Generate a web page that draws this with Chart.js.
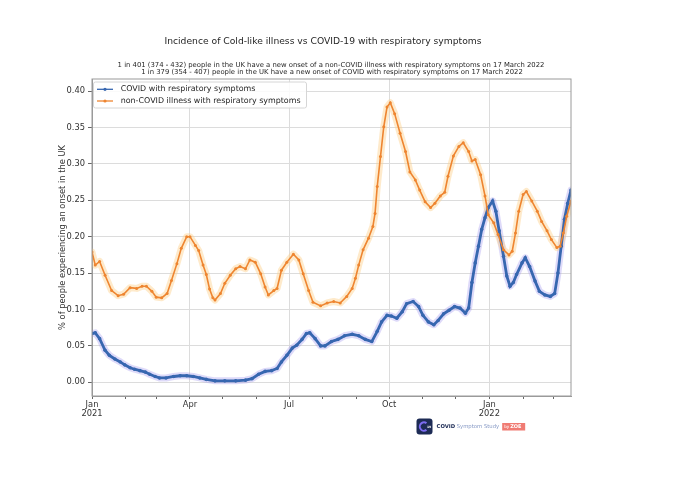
<!DOCTYPE html>
<html>
<head>
<meta charset="utf-8">
<script src="https://cdn.jsdelivr.net/npm/chart.js@4.4.0/dist/chart.umd.min.js"></script>
<style>
html, body {
    margin: 0;
    padding: 0;
    background: #fff;
}
#wrap {
    width: 680px;
    height: 503px;
    position: relative;
}
</style>
</head>
<body>
<div id="wrap"><canvas id="incidenceChart"></canvas></div>
<script>
// days since 1 Jan 2021, values in % of people
var covidDays = [0, 3, 7, 12, 16, 21, 26, 30, 35, 39, 44, 49, 53, 58, 62, 68, 75, 81, 87, 93, 99, 105, 113, 122, 132, 141, 147, 153, 159, 165, 170, 174, 179, 184, 188, 193, 197, 200, 205, 210, 214, 220, 226, 232, 239, 245, 251, 257, 262, 266, 271, 275, 280, 285, 289, 295, 300, 304, 309, 314, 318, 323, 328, 333, 338, 343, 346, 349, 352, 355, 358, 361, 364, 368, 371, 374, 378, 381, 384, 387, 390, 395, 398, 402, 407, 411, 416, 421, 425, 428, 431, 434, 437, 440];
var covidValues = [0.067, 0.068, 0.060, 0.044, 0.037, 0.032, 0.028, 0.024, 0.020, 0.018, 0.016, 0.014, 0.011, 0.008, 0.006, 0.006, 0.008, 0.009, 0.009, 0.008, 0.006, 0.004, 0.002, 0.002, 0.002, 0.003, 0.005, 0.011, 0.015, 0.016, 0.019, 0.028, 0.037, 0.047, 0.051, 0.059, 0.067, 0.068, 0.060, 0.050, 0.050, 0.056, 0.059, 0.064, 0.066, 0.064, 0.059, 0.056, 0.070, 0.083, 0.092, 0.091, 0.088, 0.097, 0.108, 0.111, 0.104, 0.092, 0.083, 0.079, 0.085, 0.094, 0.099, 0.104, 0.102, 0.095, 0.102, 0.137, 0.164, 0.187, 0.210, 0.226, 0.240, 0.249, 0.235, 0.208, 0.173, 0.146, 0.132, 0.137, 0.148, 0.164, 0.171, 0.159, 0.139, 0.125, 0.120, 0.118, 0.122, 0.150, 0.187, 0.224, 0.246, 0.264];

var coldDays = [0, 3, 7, 12, 18, 24, 29, 35, 41, 46, 50, 55, 59, 64, 69, 73, 78, 82, 87, 90, 95, 98, 102, 105, 108, 111, 113, 118, 122, 127, 132, 136, 141, 145, 150, 155, 159, 162, 167, 170, 174, 179, 185, 190, 194, 199, 203, 210, 216, 222, 228, 234, 239, 242, 245, 249, 254, 258, 260, 262, 265, 268, 271, 274, 278, 283, 288, 292, 297, 301, 306, 311, 315, 320, 324, 327, 332, 337, 341, 346, 349, 352, 357, 361, 364, 369, 373, 378, 383, 386, 389, 392, 396, 399, 404, 409, 413, 418, 422, 427, 430, 433, 436, 440];
var coldValues = [0.179, 0.161, 0.166, 0.147, 0.126, 0.119, 0.121, 0.130, 0.129, 0.132, 0.132, 0.125, 0.117, 0.116, 0.122, 0.140, 0.163, 0.184, 0.200, 0.200, 0.188, 0.181, 0.161, 0.148, 0.128, 0.116, 0.113, 0.122, 0.136, 0.147, 0.156, 0.159, 0.156, 0.168, 0.165, 0.149, 0.131, 0.120, 0.126, 0.129, 0.154, 0.165, 0.176, 0.168, 0.149, 0.126, 0.110, 0.105, 0.109, 0.111, 0.109, 0.118, 0.129, 0.143, 0.161, 0.182, 0.198, 0.214, 0.232, 0.269, 0.310, 0.351, 0.378, 0.384, 0.369, 0.342, 0.317, 0.289, 0.278, 0.264, 0.248, 0.240, 0.246, 0.256, 0.261, 0.283, 0.311, 0.324, 0.329, 0.317, 0.304, 0.306, 0.285, 0.256, 0.230, 0.219, 0.203, 0.182, 0.175, 0.180, 0.205, 0.235, 0.258, 0.262, 0.249, 0.235, 0.221, 0.208, 0.196, 0.185, 0.187, 0.205, 0.228, 0.249];

var monthStarts = [0, 31, 59, 90, 120, 151, 181, 212, 243, 273, 304, 334, 365, 396, 424];
var monthLabels = [["Jan", "2021"], "", "", "Apr", "", "", "Jul", "", "", "Oct", "", "", ["Jan", "2022"], "", ""];
var yTicks = [0, 0.05, 0.10, 0.15, 0.20, 0.25, 0.30, 0.35, 0.40];

var seriesNames = ["COVID with respiratory symptoms", "non-COVID illness with respiratory symptoms"];
var titleText = "Incidence of Cold-like illness vs COVID-19 with respiratory symptoms";
var subtitleLines = [
    "1 in 401 (374 - 432) people in the UK have a new onset of a non-COVID illness with respiratory symptoms on 17 March 2022",
    "1 in 379 (354 - 407) people in the UK have a new onset of COVID with respiratory symptoms on 17 March 2022"
];

var BLUE = "#3767b0";
var ORANGE = "#ee8530";
var FONT = "'DejaVu Sans', sans-serif";

function toPoints(days, values) {
    return days.map(function (d, i) { return {x: d, y: values[i]}; });
}

// title, subtitle, legend box, frame and the logo at the bottom
var decorations = {
    id: "decorations",
    afterDraw: function (chart) {
        var ctx = chart.ctx;
        var area = chart.chartArea;
        ctx.save();

        // frame round the plot
        ctx.strokeStyle = "#9a9a9a";
        ctx.lineWidth = 1;
        ctx.strokeRect(area.left, area.top, area.right - area.left, area.bottom - area.top);

        ctx.fillStyle = "#262626";
        ctx.textAlign = "center";
        ctx.textBaseline = "middle";
        ctx.font = "9.2px " + FONT;
        ctx.fillText(titleText, 323, 42);
        ctx.font = "6.85px " + FONT;
        ctx.fillText(subtitleLines[0], 331, 65);
        ctx.fillText(subtitleLines[1], 332, 72.7);

        // legend
        ctx.fillStyle = "rgba(255,255,255,0.85)";
        ctx.strokeStyle = "#d6d6d6";
        ctx.beginPath();
        ctx.roundRect(93.5, 82, 213, 26, 2);
        ctx.fill();
        ctx.stroke();
        var colors = [BLUE, ORANGE];
        var rows = [89.3, 101];
        ctx.textAlign = "left";
        ctx.font = "7.95px " + FONT;
        for (var i = 0; i < 2; i++) {
            ctx.strokeStyle = colors[i];
            ctx.fillStyle = colors[i];
            ctx.lineWidth = 1.3;
            ctx.beginPath();
            ctx.moveTo(97, rows[i]);
            ctx.lineTo(113, rows[i]);
            ctx.stroke();
            ctx.beginPath();
            ctx.arc(105, rows[i], 1.6, 0, Math.PI * 2);
            ctx.fill();
            ctx.fillStyle = "#262626";
            ctx.fillText(seriesNames[i], 120.7, rows[i]);
        }

        // COVID Symptom Study logo
        ctx.fillStyle = "#1d2b55";
        ctx.beginPath();
        ctx.roundRect(416.5, 418.5, 16, 16, 3);
        ctx.fill();
        ctx.strokeStyle = "#7b6cf0";
        ctx.lineWidth = 2;
        ctx.beginPath();
        ctx.arc(424, 426.5, 4.2, Math.PI * 0.3, Math.PI * 1.7);
        ctx.stroke();
        ctx.fillStyle = "#ffffff";
        ctx.font = "bold 3px " + FONT;
        ctx.fillText("19", 427, 427);

        var tx = 436.5;
        ctx.font = "bold 5.3px " + FONT;
        ctx.fillStyle = "#1d2b55";
        ctx.fillText("COVID", tx, 426.5);
        tx += ctx.measureText("COVID").width + 1.5;
        ctx.font = "5.3px " + FONT;
        ctx.fillStyle = "#8598c4";
        ctx.fillText("Symptom Study", tx, 426.5);
        tx += ctx.measureText("Symptom Study").width + 3;
        ctx.fillStyle = "#f07b73";
        ctx.fillRect(tx, 423, 23, 7.5);
        ctx.fillStyle = "#ffffff";
        ctx.font = "4.2px " + FONT;
        ctx.fillText("by", tx + 2, 427);
        ctx.font = "bold 5px " + FONT;
        ctx.fillText("ZOE", tx + 8, 427);

        ctx.restore();
    }
};

var chartCtx = document.getElementById("incidenceChart").getContext("2d");
var incidenceChart = new Chart(chartCtx, {
    type: "line",
    data: {
        datasets: [{
            label: seriesNames[1],
            data: toPoints(coldDays, coldValues),
            borderColor: ORANGE,
            backgroundColor: ORANGE,
            borderWidth: 1.6,
            pointRadius: 1.5,
            pointBorderWidth: 0,
            order: 0
        }, {
            label: seriesNames[0],
            data: toPoints(covidDays, covidValues),
            borderColor: BLUE,
            backgroundColor: BLUE,
            borderWidth: 2.8,
            pointRadius: 1.8,
            pointBorderWidth: 0,
            order: 1
        }, {
            label: "cold band",
            data: toPoints(coldDays, coldValues),
            borderColor: "rgba(252,208,140,0.45)",
            borderWidth: 7,
            borderCapStyle: "round",
            borderJoinStyle: "round",
            pointRadius: 0,
            order: 2
        }, {
            label: "covid band",
            data: toPoints(covidDays, covidValues),
            borderColor: "rgba(160,148,238,0.35)",
            borderWidth: 7,
            borderCapStyle: "round",
            borderJoinStyle: "round",
            pointRadius: 0,
            order: 3
        }]
    },
    options: {
        responsive: true,
        maintainAspectRatio: false,
        animation: false,
        layout: {
            padding: {left: 0, right: 109, top: 79, bottom: 77}
        },
        plugins: {
            legend: {display: false},
            tooltip: {enabled: false}
        },
        scales: {
            x: {
                type: "linear",
                min: 0,
                max: 440,
                afterBuildTicks: function (scale) {
                    scale.ticks = monthStarts.map(function (d) { return {value: d}; });
                },
                afterFit: function (scale) { scale.height = 30; },
                ticks: {
                    autoSkip: false,
                    maxRotation: 0,
                    padding: 1,
                    color: "#333",
                    font: {family: FONT, size: 8.3, lineHeight: 1.12},
                    callback: function (value, index) { return monthLabels[index]; }
                },
                grid: {
                    color: function (c) { return monthLabels[c.index] ? "#dcdcdc" : "rgba(0,0,0,0)"; },
                    tickColor: "#666",
                    tickLength: 3
                },
                border: {color: "#9a9a9a"}
            },
            y: {
                min: -0.0188,
                max: 0.4166,
                afterBuildTicks: function (scale) {
                    scale.ticks = yTicks.map(function (v) { return {value: v}; });
                },
                afterFit: function (scale) { scale.width = 92; },
                ticks: {
                    padding: 3,
                    color: "#333",
                    font: {family: FONT, size: 8.3},
                    callback: function (value) { return value.toFixed(2); }
                },
                grid: {
                    color: "#dcdcdc",
                    tickColor: "#666",
                    tickLength: 4
                },
                border: {color: "#9a9a9a"},
                title: {
                    display: true,
                    text: "% of people experiencing an onset in the UK",
                    color: "#333",
                    font: {family: FONT, size: 8.3},
                    padding: {top: 58, bottom: 0}
                }
            }
        }
    },
    plugins: [decorations]
});
</script>
</body>
</html>
